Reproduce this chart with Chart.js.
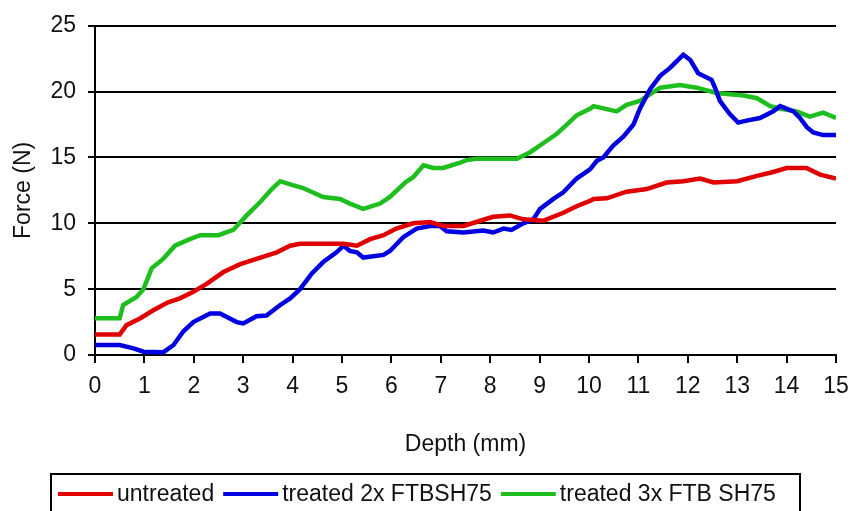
<!DOCTYPE html>
<html>
<head>
<meta charset="utf-8">
<script src="https://cdn.jsdelivr.net/npm/chart.js@4/dist/chart.umd.min.js"></script>
<style>
  html, body { margin: 0; padding: 0; background: #fff; }
  #wrap { width: 850px; height: 511px; }
</style>
</head>
<body>
<div id="wrap"><canvas id="c" width="850" height="511"></canvas></div>
<script>
// Penetration force against depth for three surface treatments
const seriesNames = ['untreated', 'treated 2x FTBSH75', 'treated 3x FTB SH75'];
const seriesColors = ['#e00000', '#0000e0', '#1fbe1f'];

const untreatedDepth = [0, 0.5, 0.64, 0.91, 1.18, 1.48, 1.72, 1.99, 2.26, 2.6, 2.94, 3.27, 3.68, 3.95, 4.15, 5.03, 5.3, 5.57, 5.84, 6.1, 6.44, 6.78, 7.05, 7.46, 7.72, 8.06, 8.4, 8.67, 9.08, 9.48, 9.75, 10.02, 10.09, 10.36, 10.76, 11.17, 11.57, 11.91, 12.25, 12.52, 13.0, 13.4, 13.73, 14.0, 14.4, 14.68, 15.0];
const untreatedForce = [1.56, 1.56, 2.27, 2.77, 3.4, 4.0, 4.3, 4.8, 5.4, 6.3, 6.9, 7.3, 7.8, 8.3, 8.45, 8.45, 8.3, 8.8, 9.1, 9.6, 10.0, 10.1, 9.8, 9.8, 10.1, 10.5, 10.6, 10.3, 10.2, 10.8, 11.3, 11.7, 11.85, 11.9, 12.4, 12.6, 13.1, 13.2, 13.4, 13.1, 13.2, 13.6, 13.9, 14.2, 14.2, 13.7, 13.4];

const twoCoatDepth = [0, 0.5, 0.78, 0.98, 1.38, 1.59, 1.79, 1.99, 2.33, 2.53, 2.87, 3.0, 3.27, 3.47, 3.75, 3.95, 4.15, 4.39, 4.62, 4.89, 5.03, 5.16, 5.3, 5.43, 5.84, 5.97, 6.24, 6.51, 6.78, 6.98, 7.12, 7.46, 7.86, 8.06, 8.27, 8.43, 8.67, 8.87, 9.01, 9.28, 9.48, 9.75, 10.02, 10.16, 10.29, 10.49, 10.7, 10.9, 11.03, 11.24, 11.44, 11.64, 11.91, 12.05, 12.21, 12.48, 12.55, 12.65, 12.85, 13.02, 13.19, 13.46, 13.73, 13.87, 14.14, 14.27, 14.41, 14.54, 14.74, 15.0];
const twoCoatForce = [0.76, 0.76, 0.5, 0.25, 0.2, 0.76, 1.8, 2.5, 3.15, 3.15, 2.5, 2.4, 2.95, 3.0, 3.8, 4.3, 5.0, 6.2, 7.06, 7.8, 8.3, 7.9, 7.8, 7.4, 7.6, 7.9, 8.95, 9.6, 9.8, 9.8, 9.4, 9.3, 9.45, 9.3, 9.6, 9.5, 10.0, 10.3, 11.1, 11.85, 12.35, 13.4, 14.1, 14.75, 15.0, 15.9, 16.6, 17.5, 18.7, 20.2, 21.2, 21.8, 22.8, 22.4, 21.4, 20.9, 20.3, 19.3, 18.3, 17.65, 17.8, 18.0, 18.5, 18.9, 18.5, 18.0, 17.3, 16.9, 16.7, 16.7];

const threeCoatDepth = [0, 0.5, 0.57, 0.84, 0.98, 1.15, 1.38, 1.62, 1.92, 2.13, 2.5, 2.8, 3.07, 3.34, 3.58, 3.75, 4.0, 4.2, 4.62, 4.96, 5.16, 5.43, 5.77, 5.97, 6.28, 6.44, 6.65, 6.85, 7.05, 7.39, 7.52, 7.72, 8.54, 8.81, 9.08, 9.35, 9.55, 9.75, 10.02, 10.09, 10.56, 10.76, 11.03, 11.44, 11.84, 12.18, 12.58, 13.13, 13.4, 13.67, 13.87, 14.2, 14.47, 14.74, 15.0];
const threeCoatForce = [2.8, 2.8, 3.8, 4.4, 5.0, 6.6, 7.3, 8.3, 8.8, 9.1, 9.1, 9.5, 10.6, 11.6, 12.6, 13.2, 12.9, 12.7, 12.0, 11.85, 11.5, 11.1, 11.5, 12.0, 13.1, 13.5, 14.4, 14.2, 14.2, 14.6, 14.8, 14.9, 14.9, 15.4, 16.1, 16.8, 17.5, 18.2, 18.7, 18.9, 18.5, 19.0, 19.3, 20.3, 20.5, 20.3, 19.9, 19.7, 19.5, 18.9, 18.7, 18.5, 18.1, 18.4, 18.0];

const xTitle = 'Depth (mm)';
const yTitle = 'Force (N)';

const FONT = 'Liberation Sans, Arial, sans-serif';

function pairs(xs, ys) {
  return xs.map((x, i) => ({ x: x, y: ys[i] }));
}

const depths = [untreatedDepth, twoCoatDepth, threeCoatDepth];
const forces = [untreatedForce, twoCoatForce, threeCoatForce];

const datasets = seriesNames.map((name, i) => ({
  label: name,
  data: pairs(depths[i], forces[i]),
  borderColor: seriesColors[i],
  backgroundColor: seriesColors[i],
  borderWidth: 4.5,
  pointRadius: 0,
  tension: 0,
  fill: false
}));

// Boxed legend below the plot, line samples followed by labels
const boxedLegend = {
  id: 'boxedLegend',
  afterDraw(chart) {
    const ctx = chart.ctx;
    const boxLeft = 51, boxTop = 474, boxRight = 800, boxBottom = 530;
    const cy = 494;
    ctx.save();
    ctx.strokeStyle = '#000';
    ctx.lineWidth = 2;
    ctx.strokeRect(boxLeft, boxTop, boxRight - boxLeft, boxBottom - boxTop);
    ctx.font = '23px ' + FONT;
    ctx.textBaseline = 'middle';
    ctx.textAlign = 'left';
    let x = 58;
    chart.data.datasets.forEach((ds) => {
      ctx.strokeStyle = ds.borderColor;
      ctx.lineWidth = 4;
      ctx.beginPath();
      ctx.moveTo(x, cy);
      ctx.lineTo(x + 55, cy);
      ctx.stroke();
      ctx.fillStyle = '#111';
      ctx.fillText(ds.label, x + 59, cy + 1);
      x += 59 + ctx.measureText(ds.label).width + 9;
    });
    ctx.restore();
  }
};

new Chart(document.getElementById('c'), {
  type: 'line',
  data: { datasets: datasets },
  plugins: [boxedLegend],
  options: {
    responsive: false,
    animation: false,
    devicePixelRatio: 1,
    layout: { padding: { left: 0, top: 24, right: 14, bottom: 0 } },
    plugins: {
      legend: { display: false },
      tooltip: { enabled: false }
    },
    scales: {
      x: {
        type: 'linear',
        min: 0,
        max: 15,
        afterFit(scale) {
          scale.height = 156;
          scale.paddingRight = 0;
          scale.paddingLeft = 0;
        },
        border: { display: true, color: '#000', width: 2 },
        grid: { drawOnChartArea: false, drawTicks: true, tickLength: 8, color: '#000', lineWidth: 2 },
        ticks: {
          stepSize: 1,
          padding: 10,
          color: '#111',
          font: { family: FONT, size: 23 },
          maxRotation: 0,
          autoSkip: false
        },
        title: {
          display: true,
          text: xTitle,
          color: '#111',
          font: { family: FONT, size: 23 },
          padding: { top: 0, bottom: 53 }
        }
      },
      y: {
        min: 0,
        max: 25,
        afterFit(scale) { scale.width = 95; },
        border: { display: true, color: '#000', width: 2 },
        grid: { color: '#000', lineWidth: 2, tickLength: 7, drawTicks: true },
        ticks: {
          stepSize: 5,
          padding: 12,
          color: '#111',
          font: { family: FONT, size: 23 }
        },
        title: {
          display: true,
          text: yTitle,
          color: '#111',
          font: { family: FONT, size: 23 },
          padding: { top: 10, bottom: 0 }
        }
      }
    }
  }
});
</script>
</body>
</html>
